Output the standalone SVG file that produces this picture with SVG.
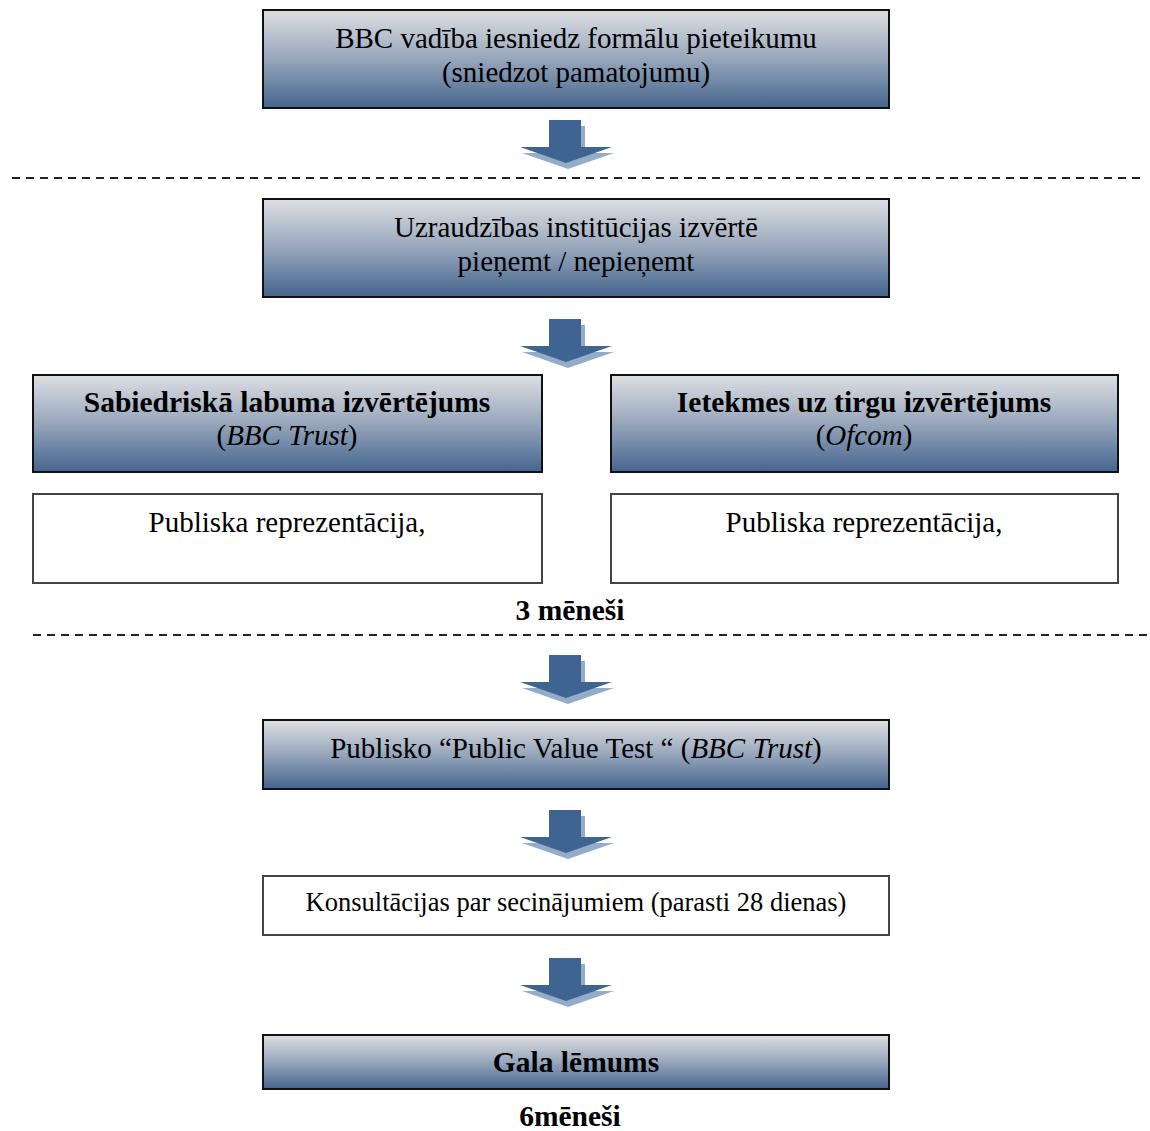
<svg xmlns="http://www.w3.org/2000/svg" width="1150" height="1131" viewBox="0 0 1150 1131">
<defs>
<linearGradient id="g" x1="0" y1="0" x2="0" y2="1">
<stop offset="0" stop-color="#dedfe3"/>
<stop offset="0.5" stop-color="#97a6bb"/>
<stop offset="1" stop-color="#45658e"/>
</linearGradient>
<g id="arrow">
<path d="M31,0 H63 V27 H92 L46,43 L0,27 H31 Z" transform="translate(2,6)" fill="#93adc8"/>
<path d="M29,0 H61 V27 H92 L46,43 L0,27 H29 Z" fill="#3f6491"/>
</g>
</defs>
<style>
.gb{fill:url(#g);stroke:#111;stroke-width:2}
.wb{fill:#fff;stroke:#444;stroke-width:2}
text{font-family:"Liberation Serif","Times New Roman",serif;fill:#000;text-anchor:middle}
.t{font-size:29px}
.b{font-size:29.5px;font-weight:bold}
.s{font-size:26.5px}
.dash{stroke:#222;stroke-width:2;stroke-dasharray:8 6;fill:none}
</style>
<g id="connectors">
<use href="#arrow" x="520" y="120"/>
<use href="#arrow" x="520" y="319"/>
<use href="#arrow" x="520" y="655"/>
<use href="#arrow" x="520" y="810"/>
<use href="#arrow" x="520" y="958"/>
<line class="dash" x1="12" y1="178" x2="1140" y2="178"/>
<line class="dash" x1="33" y1="635" x2="1148" y2="635"/>
</g>
<g id="n1">
<rect class="gb" x="263" y="10" width="626" height="98"/>
<text class="t" x="576" y="48">BBC vadība iesniedz formālu pieteikumu</text>
<text class="t" x="576" y="82">(sniedzot pamatojumu)</text>
</g>
<g id="n2">
<rect class="gb" x="263" y="199" width="626" height="98"/>
<text class="t" x="576" y="237">Uzraudzības institūcijas izvērtē</text>
<text class="t" x="576" y="271">pieņemt / nepieņemt</text>
</g>
<g id="n3">
<rect class="gb" x="33" y="375" width="509" height="97"/>
<text class="b" x="287" y="412">Sabiedriskā labuma izvērtējums</text>
<text class="t" x="287" y="445">(<tspan font-style="italic">BBC Trust</tspan>)</text>
</g>
<g id="n4">
<rect class="gb" x="611" y="375" width="507" height="97"/>
<text class="b" x="864" y="412">Ietekmes uz tirgu izvērtējums</text>
<text class="t" x="864" y="445">(<tspan font-style="italic">Ofcom</tspan>)</text>
</g>
<g id="n5">
<rect class="wb" x="33" y="494" width="509" height="89"/>
<text class="t" x="287" y="532">Publiska reprezentācija,</text>
</g>
<g id="n6">
<rect class="wb" x="611" y="494" width="507" height="89"/>
<text class="t" x="864" y="532">Publiska reprezentācija,</text>
</g>
<g id="l1">
<text class="b" x="570" y="620">3 mēneši</text>
</g>
<g id="n7">
<rect class="gb" x="263" y="720" width="626" height="69"/>
<text class="t" x="576" y="758">Publisko “Public Value Test “ (<tspan font-style="italic">BBC Trust</tspan>)</text>
</g>
<g id="n8">
<rect class="wb" x="263" y="876" width="626" height="59"/>
<text class="s" x="576" y="911">Konsultācijas par secinājumiem (parasti 28 dienas)</text>
</g>
<g id="n9">
<rect class="gb" x="263" y="1035" width="626" height="54"/>
<text class="b" x="576" y="1072">Gala lēmums</text>
</g>
<g id="l2">
<text class="b" x="570" y="1126">6mēneši</text>
</g>
</svg>
